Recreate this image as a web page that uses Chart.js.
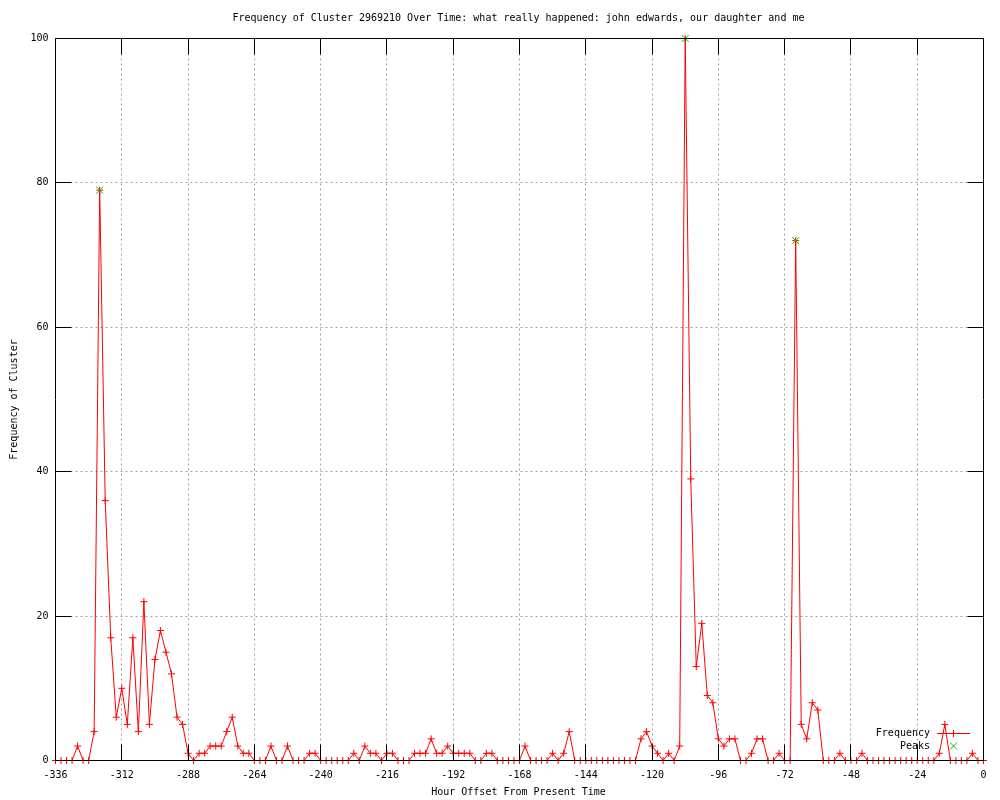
<!DOCTYPE html>
<html><head><meta charset="utf-8">
<script src="https://cdn.jsdelivr.net/npm/chart.js@4/dist/chart.umd.min.js"></script>
<style>html,body{margin:0;padding:0;background:#fff;} #wrap{width:1000px;height:800px;}</style>
</head><body><div id="wrap"><canvas id="c" width="1000" height="800"></canvas></div>
<script>
const titleText = "Frequency of Cluster 2969210 Over Time: what really happened: john edwards, our daughter and me";
const xAxisTitle = "Hour Offset From Present Time";
const yAxisTitle = "Frequency of Cluster";
const seriesNames = ["Frequency", "Peaks"];

const hours = [
  -336,-334,-332,-330,-328,-326,-324,-322,-320,-318,-316,-314,
  -312,-310,-308,-306,-304,-302,-300,-298,-296,-294,-292,-290,
  -288,-286,-284,-282,-280,-278,-276,-274,-272,-270,-268,-266,
  -264,-262,-260,-258,-256,-254,-252,-250,-248,-246,-244,-242,
  -240,-238,-236,-234,-232,-230,-228,-226,-224,-222,-220,-218,
  -216,-214,-212,-210,-208,-206,-204,-202,-200,-198,-196,-194,
  -192,-190,-188,-186,-184,-182,-180,-178,-176,-174,-172,-170,
  -168,-166,-164,-162,-160,-158,-156,-154,-152,-150,-148,-146,
  -144,-142,-140,-138,-136,-134,-132,-130,-128,-126,-124,-122,
  -120,-118,-116,-114,-112,-110,-108,-106,-104,-102,-100,-98,
  -96,-94,-92,-90,-88,-86,-84,-82,-80,-78,-76,-74,
  -72,-70,-68,-66,-64,-62,-60,-58,-56,-54,-52,-50,
  -48,-46,-44,-42,-40,-38,-36,-34,-32,-30,-28,-26,
  -24,-22,-20,-18,-16,-14,-12,-10,-8,-6,-4,-2,
  0
];
const counts = [
  0,0,0,0,2,0,0,4,79,36,17,6,
  10,5,17,4,22,5,14,18,15,12,6,5,
  1,0,1,1,2,2,2,4,6,2,1,1,
  0,0,0,2,0,0,2,0,0,0,1,1,
  0,0,0,0,0,0,1,0,2,1,1,0,
  1,1,0,0,0,1,1,1,3,1,1,2,
  1,1,1,1,0,0,1,1,0,0,0,0,
  0,2,0,0,0,0,1,0,1,4,0,0,
  0,0,0,0,0,0,0,0,0,0,3,4,
  2,1,0,1,0,2,100,39,13,19,9,8,
  3,2,3,3,0,0,1,3,3,0,0,1,
  0,0,72,5,3,8,7,0,0,0,1,0,
  0,0,1,0,0,0,0,0,0,0,0,0,
  0,0,0,0,1,5,0,0,0,0,1,0,
  0
];
const peakHours = [-320, -108, -68];
const peakCounts = [79, 100, 72];
const xTicks = [-336,-312,-288,-264,-240,-216,-192,-168,-144,-120,-96,-72,-48,-24,0];
const yTicks = [0,20,40,60,80,100];

const FONT_FAMILY = '"DejaVu Sans Mono", "Liberation Mono", monospace';
const FONT = '10px ' + FONT_FAMILY;
const RED = '#ff0000';
const GREEN = '#00c000';

function crisp(p) { return Math.floor(p) + 0.5; }

const gnuplotDecor = {
  id: 'gnuplotDecor',
  beforeDatasetsDraw(chart) {
    const { ctx, chartArea: a, scales } = chart;
    const x = scales.x, y = scales.y;
    ctx.save();
    ctx.strokeStyle = '#a0a0a0';
    ctx.lineWidth = 1;
    ctx.setLineDash([2, 3]);
    xTicks.forEach(v => {
      if (v === x.min || v === x.max) return;
      const px = crisp(x.getPixelForValue(v));
      ctx.beginPath(); ctx.moveTo(px, a.top); ctx.lineTo(px, a.bottom); ctx.stroke();
    });
    yTicks.forEach(v => {
      if (v === y.min || v === y.max) return;
      const py = crisp(y.getPixelForValue(v));
      ctx.beginPath(); ctx.moveTo(a.left, py); ctx.lineTo(a.right, py); ctx.stroke();
    });
    ctx.restore();
  },
  afterDatasetsDraw(chart) {
    const { ctx, chartArea: a, scales } = chart;
    const x = scales.x, y = scales.y;
    const L = crisp(a.left), R = crisp(a.right), T = crisp(a.top), B = crisp(a.bottom);
    const TL = 16;
    ctx.save();
    ctx.setLineDash([]);
    ctx.strokeStyle = '#000';
    ctx.lineWidth = 1;
    // border
    ctx.beginPath();
    ctx.moveTo(L, T); ctx.lineTo(R, T); ctx.lineTo(R, B); ctx.lineTo(L, B); ctx.closePath();
    ctx.stroke();
    // ticks (inward, mirrored)
    xTicks.forEach(v => {
      const px = crisp(x.getPixelForValue(v));
      ctx.beginPath();
      ctx.moveTo(px, B); ctx.lineTo(px, B - TL);
      ctx.moveTo(px, T); ctx.lineTo(px, T + TL);
      ctx.stroke();
    });
    yTicks.forEach(v => {
      const py = crisp(y.getPixelForValue(v));
      ctx.beginPath();
      ctx.moveTo(L, py); ctx.lineTo(L + TL, py);
      ctx.moveTo(R, py); ctx.lineTo(R - TL, py);
      ctx.stroke();
    });
    // texts
    ctx.fillStyle = '#000';
    ctx.font = FONT;
    ctx.textAlign = 'center';
    ctx.textBaseline = 'middle';
    const cx = (a.left + a.right) / 2 - 1;
    ctx.fillText(titleText, cx, 18);
    ctx.fillText(xAxisTitle, cx, 792);
    ctx.save();
    ctx.translate(14, (a.top + a.bottom) / 2);
    ctx.rotate(-Math.PI / 2);
    ctx.fillText(yAxisTitle, 0, 0);
    ctx.restore();
    // legend
    ctx.textAlign = 'right';
    ctx.fillText(seriesNames[0], 930, 733);
    ctx.fillText(seriesNames[1], 930, 746);
    ctx.strokeStyle = RED;
    ctx.beginPath();
    ctx.moveTo(937, 733.5); ctx.lineTo(970, 733.5);
    ctx.moveTo(953.5, 730); ctx.lineTo(953.5, 737);
    ctx.stroke();
    ctx.strokeStyle = GREEN;
    ctx.beginPath();
    ctx.moveTo(950, 742.5); ctx.lineTo(957, 749.5);
    ctx.moveTo(957, 742.5); ctx.lineTo(950, 749.5);
    ctx.stroke();
    ctx.restore();
  }
};

new Chart(document.getElementById('c'), {
  type: 'scatter',
  data: {
    datasets: [
      {
        label: seriesNames[0],
        data: hours.map((h, i) => ({ x: h, y: counts[i] })),
        showLine: true,
        borderColor: RED,
        backgroundColor: RED,
        borderWidth: 1,
        pointStyle: 'cross',
        pointRadius: 3.5,
        pointBorderWidth: 1,
        pointBorderColor: RED,
        tension: 0,
        order: 2,
        clip: false
      },
      {
        label: seriesNames[1],
        data: peakHours.map((h, i) => ({ x: h, y: peakCounts[i] })),
        showLine: false,
        borderColor: GREEN,
        backgroundColor: GREEN,
        pointStyle: 'crossRot',
        pointRadius: 5,
        pointBorderWidth: 1,
        pointBorderColor: GREEN,
        order: 1,
        clip: false
      }
    ]
  },
  options: {
    responsive: false,
    animation: false,
    devicePixelRatio: 1,
    events: [],
    layout: { padding: { top: 38.5, right: 16.5, left: 0, bottom: 0 } },
    plugins: { legend: { display: false }, title: { display: false }, tooltip: { enabled: false } },
    scales: {
      x: {
        type: 'linear', min: -336, max: 0,
        afterBuildTicks: s => { s.ticks = xTicks.map(v => ({ value: v })); },
        afterFit: s => { s.height = 39.5; },
        grid: { display: false, drawTicks: false },
        border: { display: false },
        ticks: { color: '#000', font: { family: FONT_FAMILY, size: 10 }, padding: 9, maxRotation: 0, autoSkip: false, callback: v => String(v) }
      },
      y: {
        type: 'linear', min: 0, max: 100,
        afterBuildTicks: s => { s.ticks = yTicks.map(v => ({ value: v })); },
        afterFit: s => { s.width = 55.5; },
        grid: { display: false, drawTicks: false },
        border: { display: false },
        ticks: { color: '#000', font: { family: FONT_FAMILY, size: 10 }, padding: 7, callback: v => String(v) }
      }
    }
  },
  plugins: [gnuplotDecor]
});
</script>
</body></html>
